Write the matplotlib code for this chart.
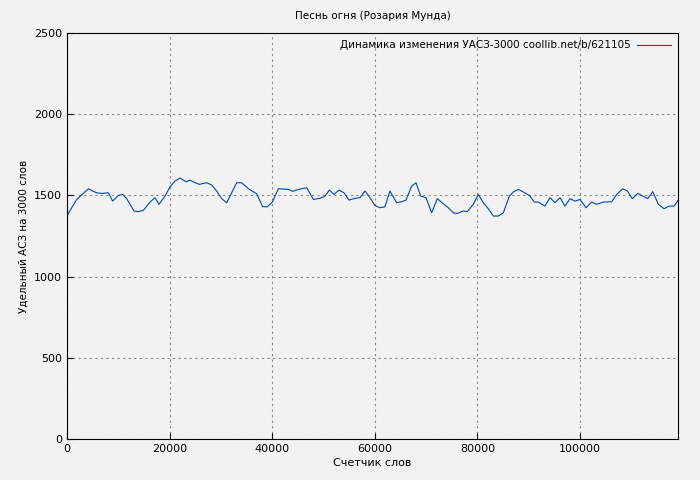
import matplotlib
matplotlib.use('agg')
import matplotlib.pyplot as plt

words = [0, 910, 1880, 3050, 4160, 5130, 5780, 6760, 8060, 8900, 10010, 10850, 11630,
         13060, 13900, 14880, 16180, 17150, 17930, 19100, 20080, 21050, 22030, 23200,
         23980, 24950, 25800, 27230, 28200, 29170, 30150, 31120, 32100, 33070, 34050,
         35350, 36970, 38140, 39050, 40030, 41200, 43150, 43990, 45100, 46720, 48020,
         49320, 50290, 51140, 52050, 53020, 54000, 54970, 56140, 57120, 58090,
         59050, 60030, 61000, 61980, 62950, 64250, 65230, 66070, 67180, 68030, 68930,
         69980, 71080, 72180, 73350, 74330, 75300, 76080, 77250, 78030, 79200, 80170,
         81150, 82120, 83100, 84080, 85060, 86220, 87000, 87970, 88950, 90120, 91090,
         91870, 93170, 94150, 95120, 96100, 97070, 98050, 99020, 100000, 101170,
         102270, 103250, 104550, 106170, 107150, 108320, 109230, 110200, 111240,
         112220, 113190, 114170, 115270, 116380, 117350, 118330, 119170]
asz = [1373, 1424, 1475, 1508, 1541, 1525, 1516, 1512, 1516, 1465, 1500, 1506, 1480,
       1404, 1400, 1408, 1459, 1486, 1445, 1496, 1553, 1588, 1607, 1584, 1594, 1578,
       1568, 1578, 1564, 1527, 1480, 1455, 1516, 1578, 1578, 1541, 1510, 1430, 1430,
       1459, 1541, 1537, 1525, 1537, 1547, 1475, 1482, 1496, 1533, 1506, 1533, 1516,
       1471, 1482, 1486, 1527,
       1486, 1438, 1424, 1430, 1527, 1455, 1461, 1471, 1557, 1578, 1496, 1486, 1393,
       1480, 1449, 1424, 1393, 1389, 1404, 1400, 1445, 1506, 1455, 1418, 1373, 1373,
       1393, 1496, 1521, 1537, 1521, 1500, 1459, 1459, 1434, 1486, 1455, 1486, 1434,
       1480, 1465, 1475, 1424, 1459, 1445, 1459, 1461, 1506, 1541, 1527, 1480, 1512,
       1496, 1480, 1523, 1445, 1418, 1434, 1434, 1471]

bg = '#f2f2f2'
fig = plt.figure(figsize=(7, 4.8), dpi=100, facecolor=bg)
ax = fig.add_axes([67 / 700, 41 / 480, 611 / 700, 406 / 480], facecolor=bg)
ax.plot(words, asz, color='#0047b3', lw=0.8,
        label='Динамика изменения УАСЗ-3000 coollib.net/b/621105')
ax.set_xlim(0, 119100)
ax.set_ylim(0, 2500)
ax.set_xticks(range(0, 119100, 20000))
ax.set_yticks(range(0, 2501, 500))
ax.grid(True, color='#888888', ls=(0, (2, 3)), lw=0.8)
ax.tick_params(labelsize=8, direction='in', length=4)
ax.set_xlabel('Счетчик слов', fontsize=8, labelpad=3)
ax.set_ylabel('Удельный АСЗ на 3000 слов', fontsize=7.5)
ax.set_title('Песнь огня (Розария Мунда)', fontsize=7.5, pad=10)
leg = ax.legend(loc='upper right', fontsize=7.5, frameon=False, markerfirst=False,
                handlelength=3.2, handletextpad=0.6, borderaxespad=0.3)
fig.savefig('out.png', dpi=100, facecolor=bg)
